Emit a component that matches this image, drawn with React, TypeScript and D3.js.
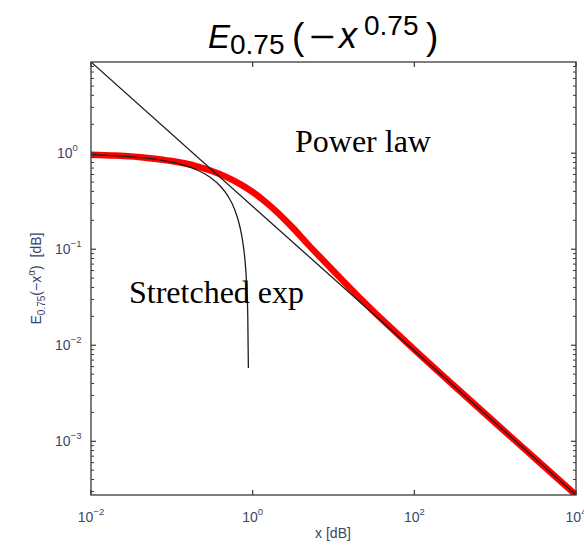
import React from 'react';
import * as d3 from 'd3';

// Mittag-Leffler function E_0.75(-x^0.75)
const mlX = [0.01, 0.02, 0.05, 0.1, 0.2, 0.3, 0.5, 0.7, 1, 1.5, 2, 3, 5, 7, 10, 20, 50, 100, 300, 1000, 3000, 10000];
const mlY = [0.966, 0.944, 0.893, 0.828, 0.733, 0.66, 0.554, 0.476, 0.394, 0.302, 0.244, 0.174, 0.109, 0.081, 0.0593, 0.0326, 0.0155, 0.009, 0.00388, 0.00156, 0.000682, 0.000276];

// short-time (stretched) branch
const stX = [0.01, 0.03, 0.1, 0.2, 0.3, 0.4, 0.5, 0.6, 0.7, 0.75, 0.8, 0.84, 0.87, 0.885];
const stY = [0.9656, 0.9216, 0.8065, 0.6746, 0.5589, 0.4527, 0.3531, 0.2583, 0.1673, 0.1232, 0.0797, 0.0454, 0.02, 0.0058];

// long-time power-law branch
const plX = [0.01, 10000];
const plY = [8.9, 0.000276];

const xTickExps = [-2, 0, 2, 4];
const yTickExps = [-3, -2, -1, 0];

const W = 584;
const H = 545;
const M = { left: 91, right: 576, top: 62, bottom: 495 };
const tickColor = '#3a4868';
const frameColor = '#3a3a3a';

export default function App() {
  const x = d3.scaleLog().domain([0.01, 10000]).range([M.left, M.right]);
  const y = d3.scaleLog().domain([0.000276, 8.9]).range([M.bottom, M.top]);

  const line = d3
    .line<[number, number]>()
    .x((d) => x(d[0]))
    .y((d) => y(d[1]))
    .curve(d3.curveMonotoneX);

  const ml = mlX.map((v, i) => [v, mlY[i]] as [number, number]);
  const st = stX.map((v, i) => [v, stY[i]] as [number, number]);
  const pl = plX.map((v, i) => [v, plY[i]] as [number, number]);

  const yMinor: number[] = [];
  for (let e = -4; e <= 0; e++) {
    for (let k = 2; k <= 9; k++) {
      const v = k * Math.pow(10, e);
      if (v >= 0.000276 && v <= 8.9) yMinor.push(v);
    }
  }

  const sans = '"Liberation Sans", Arial, Helvetica, sans-serif';
  const serif = '"Liberation Serif", "Times New Roman", serif';

  return (
    <svg width={W} height={H} style={{ position: 'absolute', left: 0, top: 0, background: '#fff' }}>
      <defs>
        <clipPath id="plotArea">
          <rect x={M.left} y={M.top} width={M.right - M.left} height={M.bottom - M.top} />
        </clipPath>
      </defs>

      {/* title */}
      <text fontFamily={sans} fill="#000">
        <tspan x={208} y={48} fontSize={33} fontStyle="italic">E</tspan>
        <tspan x={230} y={54} fontSize={28}>0.75</tspan>
        <tspan x={292} y={49} fontSize={37}>(</tspan>
        <tspan x={309} y={48} fontSize={33} textLength={26} lengthAdjust="spacingAndGlyphs">−</tspan>
        <tspan x={339} y={48} fontSize={36} fontStyle="italic">x</tspan>
        <tspan x={364} y={35} fontSize={28}>0.75</tspan>
        <tspan x={426} y={49} fontSize={37}>)</tspan>
      </text>

      {/* curves */}
      <g clipPath="url(#plotArea)">
        <path d={line(ml) || ''} fill="none" stroke="#ff0000" strokeWidth={6.5} strokeLinecap="round" />
        <path d={line(pl) || ''} fill="none" stroke="#1e1e1e" strokeWidth={1.3} />
        <path d={line(st) || ''} fill="none" stroke="#1e1e1e" strokeWidth={1.3} />
      </g>

      {/* frame */}
      <rect
        x={M.left}
        y={M.top}
        width={M.right - M.left}
        height={M.bottom - M.top}
        fill="none"
        stroke={frameColor}
        strokeWidth={1.3}
      />

      {/* x ticks */}
      {xTickExps.map((e) => {
        const px = x(Math.pow(10, e));
        return (
          <g key={'xt' + e}>
            <line x1={px} x2={px} y1={M.bottom} y2={M.bottom - 5} stroke={frameColor} strokeWidth={1.2} />
            <line x1={px} x2={px} y1={M.top} y2={M.top + 5} stroke={frameColor} strokeWidth={1.2} />
            <text x={px} y={522} textAnchor="middle" fontFamily={sans} fontSize={14} fill={tickColor}>
              <tspan>10</tspan>
              <tspan dy={-7} fontSize={9.5}>{e < 0 ? '−' + Math.abs(e) : e}</tspan>
            </text>
          </g>
        );
      })}

      {/* y ticks */}
      {yTickExps.map((e) => {
        const py = y(Math.pow(10, e));
        return (
          <g key={'yt' + e}>
            <line x1={M.left} x2={M.left + 5} y1={py} y2={py} stroke={frameColor} strokeWidth={1.2} />
            <line x1={M.right} x2={M.right - 5} y1={py} y2={py} stroke={frameColor} strokeWidth={1.2} />
            <text x={e < 0 ? 55 : 57} y={py + 5} fontFamily={sans} fontSize={14} fill={tickColor}>
              <tspan>10</tspan>
              <tspan dy={-7} fontSize={9.5}>{e < 0 ? '−' + Math.abs(e) : e}</tspan>
            </text>
          </g>
        );
      })}
      {yMinor.map((v, i) => {
        const py = y(v);
        return (
          <g key={'ym' + i}>
            <line x1={M.left} x2={M.left + 3} y1={py} y2={py} stroke={frameColor} strokeWidth={1} />
            <line x1={M.right} x2={M.right - 3} y1={py} y2={py} stroke={frameColor} strokeWidth={1} />
          </g>
        );
      })}

      {/* axis labels */}
      <text x={333} y={538} textAnchor="middle" fontFamily={sans} fontSize={14} fill={tickColor}>
        x [dB]
      </text>
      <text
        transform={`translate(41, ${(M.top + M.bottom) / 2}) rotate(-90)`}
        textAnchor="middle"
        fontFamily={sans}
        fontSize={14}
        fill="#3a3f6e"
      >
        <tspan>E</tspan>
        <tspan dy={4} fontSize={10}>0.75</tspan>
        <tspan dy={-4}>(−x</tspan>
        <tspan dy={-6} fontSize={10}>α</tspan>
        <tspan dy={6}>)</tspan>
        <tspan dx={8}>[dB]</tspan>
      </text>

      {/* annotations */}
      <text x={295} y={152} fontFamily={serif} fontSize={32} fill="#000">
        Power law
      </text>
      <text x={129} y={303} fontFamily={serif} fontSize={32} fill="#000">
        Stretched exp
      </text>
    </svg>
  );
}
